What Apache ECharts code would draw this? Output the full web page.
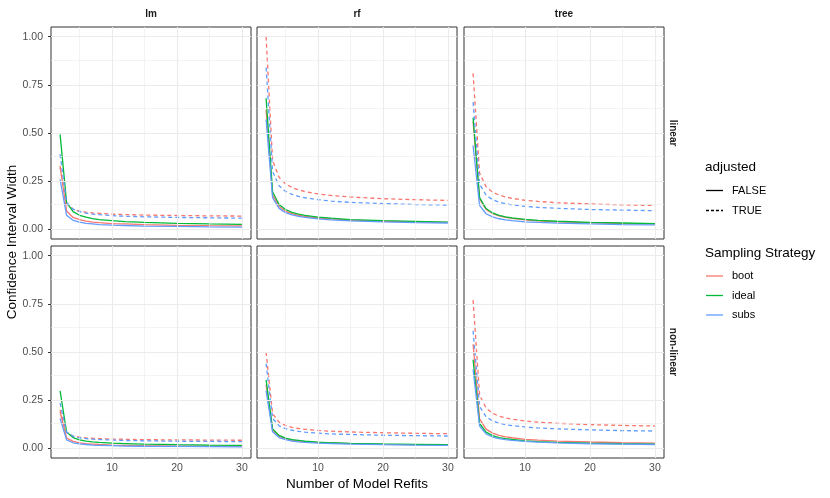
<!DOCTYPE html>
<html><head><meta charset="utf-8">
<script src="https://cdn.jsdelivr.net/npm/echarts@6/dist/echarts.min.js"></script>
<style>html,body{margin:0;padding:0;background:#fff}#c{width:830px;height:498px}</style>
</head><body><div id="c"></div>
<script>
// ---- data ----
const refits = [2, 3, 4, 5, 6, 7, 8, 10, 12, 15, 20, 25, 30];
const models = ['lm', 'rf', 'tree'];
const settings = ['linear', 'non-linear'];
const strategies = ['boot', 'ideal', 'subs'];
const adjustedLevels = ['FALSE', 'TRUE'];
const yTickValues = [0, 0.25, 0.5, 0.75, 1];
const xTickValues = [10, 20, 30];

// linear / lm
const lm_lin_boot_F  = [0.330,0.095,0.062,0.050,0.043,0.038,0.035,0.030,0.028,0.025,0.021,0.019,0.018];
const lm_lin_boot_T  = [0.320,0.131,0.104,0.094,0.089,0.085,0.083,0.079,0.077,0.074,0.072,0.070,0.069];
const lm_lin_ideal_F = [0.493,0.140,0.092,0.073,0.063,0.056,0.051,0.045,0.040,0.036,0.031,0.028,0.026];
const lm_lin_subs_F  = [0.260,0.073,0.047,0.037,0.031,0.028,0.025,0.022,0.020,0.017,0.015,0.013,0.012];
const lm_lin_subs_T  = [0.390,0.139,0.105,0.092,0.084,0.079,0.076,0.071,0.068,0.065,0.062,0.060,0.058];
// linear / rf
const rf_lin_boot_F  = [0.620,0.179,0.119,0.095,0.082,0.073,0.067,0.059,0.054,0.048,0.042,0.039,0.036];
const rf_lin_boot_T  = [1.000,0.358,0.270,0.236,0.217,0.205,0.196,0.184,0.176,0.168,0.159,0.154,0.150];
const rf_lin_ideal_F = [0.680,0.195,0.129,0.103,0.088,0.079,0.073,0.064,0.058,0.051,0.045,0.041,0.038];
const rf_lin_subs_F  = [0.570,0.165,0.109,0.087,0.075,0.067,0.062,0.054,0.049,0.044,0.039,0.035,0.033];
const rf_lin_subs_T  = [0.840,0.300,0.226,0.197,0.182,0.171,0.164,0.154,0.147,0.140,0.134,0.129,0.126];
// linear / tree
const tree_lin_boot_F  = [0.560,0.158,0.103,0.082,0.070,0.062,0.057,0.049,0.044,0.039,0.034,0.030,0.028];
const tree_lin_boot_T  = [0.810,0.292,0.221,0.193,0.178,0.168,0.161,0.151,0.145,0.138,0.132,0.127,0.124];
const tree_lin_ideal_F = [0.580,0.165,0.108,0.085,0.073,0.065,0.060,0.052,0.047,0.042,0.036,0.033,0.030];
const tree_lin_subs_F  = [0.435,0.124,0.081,0.065,0.055,0.049,0.045,0.039,0.036,0.032,0.028,0.025,0.023];
const tree_lin_subs_T  = [0.660,0.235,0.177,0.154,0.141,0.133,0.127,0.119,0.114,0.109,0.103,0.100,0.097];
// non-linear / lm
const lm_nl_boot_F  = [0.190,0.054,0.036,0.028,0.024,0.022,0.020,0.017,0.016,0.014,0.012,0.011,0.010];
const lm_nl_boot_T  = [0.200,0.081,0.064,0.058,0.054,0.052,0.051,0.048,0.047,0.045,0.044,0.043,0.042];
const lm_nl_ideal_F = [0.298,0.085,0.056,0.044,0.038,0.034,0.031,0.027,0.025,0.022,0.019,0.017,0.016];
const lm_nl_subs_F  = [0.155,0.044,0.029,0.023,0.020,0.017,0.016,0.014,0.012,0.011,0.010,0.009,0.008];
const lm_nl_subs_T  = [0.235,0.084,0.063,0.055,0.051,0.048,0.046,0.043,0.041,0.039,0.037,0.036,0.035];
// non-linear / rf
const rf_nl_boot_F  = [0.330,0.095,0.062,0.050,0.043,0.038,0.035,0.030,0.028,0.025,0.021,0.019,0.018];
const rf_nl_boot_T  = [0.500,0.180,0.136,0.119,0.109,0.103,0.099,0.093,0.089,0.085,0.081,0.078,0.076];
const rf_nl_ideal_F = [0.355,0.101,0.067,0.053,0.045,0.041,0.037,0.032,0.029,0.026,0.023,0.021,0.019];
const rf_nl_subs_F  = [0.300,0.086,0.056,0.045,0.038,0.034,0.031,0.027,0.025,0.022,0.019,0.017,0.016];
const rf_nl_subs_T  = [0.440,0.156,0.117,0.102,0.094,0.088,0.084,0.079,0.075,0.072,0.068,0.066,0.064];
// non-linear / tree
const tree_nl_boot_F  = [0.540,0.153,0.100,0.079,0.067,0.060,0.055,0.047,0.043,0.038,0.033,0.029,0.027];
const tree_nl_boot_T  = [0.770,0.276,0.209,0.182,0.167,0.158,0.151,0.142,0.136,0.130,0.123,0.119,0.116];
const tree_nl_ideal_F = [0.460,0.129,0.084,0.066,0.056,0.050,0.046,0.039,0.035,0.031,0.027,0.024,0.022];
const tree_nl_subs_F  = [0.410,0.116,0.075,0.059,0.051,0.045,0.041,0.036,0.032,0.028,0.024,0.022,0.020];
const tree_nl_subs_T  = [0.610,0.218,0.164,0.142,0.131,0.123,0.118,0.111,0.106,0.101,0.096,0.092,0.090];

// ---- assembly ----
const panelLines = {
  'linear|lm':   [['boot','FALSE',lm_lin_boot_F],['boot','TRUE',lm_lin_boot_T],['ideal','FALSE',lm_lin_ideal_F],['subs','FALSE',lm_lin_subs_F],['subs','TRUE',lm_lin_subs_T]],
  'linear|rf':   [['boot','FALSE',rf_lin_boot_F],['boot','TRUE',rf_lin_boot_T],['ideal','FALSE',rf_lin_ideal_F],['subs','FALSE',rf_lin_subs_F],['subs','TRUE',rf_lin_subs_T]],
  'linear|tree': [['boot','FALSE',tree_lin_boot_F],['boot','TRUE',tree_lin_boot_T],['ideal','FALSE',tree_lin_ideal_F],['subs','FALSE',tree_lin_subs_F],['subs','TRUE',tree_lin_subs_T]],
  'non-linear|lm':   [['boot','FALSE',lm_nl_boot_F],['boot','TRUE',lm_nl_boot_T],['ideal','FALSE',lm_nl_ideal_F],['subs','FALSE',lm_nl_subs_F],['subs','TRUE',lm_nl_subs_T]],
  'non-linear|rf':   [['boot','FALSE',rf_nl_boot_F],['boot','TRUE',rf_nl_boot_T],['ideal','FALSE',rf_nl_ideal_F],['subs','FALSE',rf_nl_subs_F],['subs','TRUE',rf_nl_subs_T]],
  'non-linear|tree': [['boot','FALSE',tree_nl_boot_F],['boot','TRUE',tree_nl_boot_T],['ideal','FALSE',tree_nl_ideal_F],['subs','FALSE',tree_nl_subs_F],['subs','TRUE',tree_nl_subs_T]]
};

const colors = { boot: '#F8766D', ideal: '#00BA38', subs: '#619CFF' };
const FONT = '"Liberation Sans", Arial, Helvetica, sans-serif';
const colLeft = [51, 257, 464];
const rowTop = [27, 246];
const PW = 200, PH = 212;

const grids = [], xAxes = [], yAxes = [], series = [];
let gi = 0;
settings.forEach((setting, r) => {
  models.forEach((model, c) => {
    grids.push({ left: colLeft[c], top: rowTop[r], width: PW, height: PH, show: true,
      borderColor: '#333333', borderWidth: 1, backgroundColor: '#ffffff', containLabel: false });
    xAxes.push({ gridIndex: gi, type: 'value', min: 0.6, max: 31.4,
      axisLine: { show: false }, splitLine: { show: false },
      axisTick: { show: r === 1, customValues: xTickValues, length: 3, lineStyle: { color: '#333', width: 1 } },
      axisLabel: { show: r === 1, customValues: xTickValues, color: '#4d4d4d', fontSize: 10.5, fontFamily: FONT, margin: 5 } });
    yAxes.push({ gridIndex: gi, type: 'value', min: -0.05, max: 1.05,
      axisLine: { show: false }, splitLine: { show: false },
      axisTick: { show: c === 0, customValues: yTickValues, length: 3, lineStyle: { color: '#333', width: 1 } },
      axisLabel: { show: c === 0, customValues: yTickValues, color: '#4d4d4d', fontSize: 10.5, fontFamily: FONT, margin: 8,
        formatter: v => v.toFixed(2) } });
    // panel grid lines
    const ml = [];
    [5, 15, 25].forEach(v => ml.push({ xAxis: v, lineStyle: { color: '#ebebeb', width: 0.6, type: 'solid' } }));
    [0.125, 0.375, 0.625, 0.875].forEach(v => ml.push({ yAxis: v, lineStyle: { color: '#ebebeb', width: 0.6, type: 'solid' } }));
    xTickValues.forEach(v => ml.push({ xAxis: v, lineStyle: { color: '#ebebeb', width: 1.1, type: 'solid' } }));
    yTickValues.forEach(v => ml.push({ yAxis: v, lineStyle: { color: '#ebebeb', width: 1.1, type: 'solid' } }));
    series.push({ type: 'line', xAxisIndex: gi, yAxisIndex: gi, data: [], silent: true, z: 1,
      markLine: { silent: true, symbol: ['none', 'none'], animation: false, label: { show: false },
        emphasis: { disabled: true }, data: ml } });
    panelLines[setting + '|' + model].forEach(([strat, adj, vals]) => {
      series.push({ type: 'line', xAxisIndex: gi, yAxisIndex: gi, z: 3,
        name: strat + ' ' + adj, showSymbol: false, symbol: 'none', animation: false, silent: true,
        lineStyle: { color: colors[strat], width: 1.3, type: adj === 'TRUE' ? [4, 3] : 'solid' },
        data: refits.map((x, i) => [x, vals[i]]) });
    });
    gi++;
  });
});

const graphic = [];
models.forEach((m, c) => graphic.push({ type: 'text', x: colLeft[c] + PW / 2, y: 14,
  style: { text: m, font: 'bold 10px ' + FONT, fill: '#1a1a1a', textAlign: 'center', textVerticalAlign: 'middle' } }));
settings.forEach((s, r) => graphic.push({ type: 'text', x: 673, y: rowTop[r] + PH / 2, rotation: -Math.PI / 2,
  style: { text: s, font: 'bold 10px ' + FONT, fill: '#1a1a1a', textAlign: 'center', textVerticalAlign: 'middle' } }));
graphic.push({ type: 'text', x: 12, y: 242, rotation: Math.PI / 2,
  style: { text: 'Confidence Interval Width', font: '13.5px ' + FONT, fill: '#000', textAlign: 'center', textVerticalAlign: 'middle' } });
graphic.push({ type: 'text', x: 357, y: 484,
  style: { text: 'Number of Model Refits', font: '13.5px ' + FONT, fill: '#000', textAlign: 'center', textVerticalAlign: 'middle' } });
// legends
graphic.push({ type: 'text', x: 705, y: 167, style: { text: 'adjusted', font: '13.5px ' + FONT, fill: '#000', textVerticalAlign: 'middle' } });
adjustedLevels.forEach((a, i) => {
  const yy = 190.5 + i * 20;
  graphic.push({ type: 'line', shape: { x1: 706, y1: yy, x2: 723, y2: yy },
    style: { stroke: '#000', lineWidth: 1.3, lineDash: a === 'TRUE' ? [3, 2] : null } });
  graphic.push({ type: 'text', x: 732, y: yy, style: { text: a, font: '11px ' + FONT, fill: '#000', textVerticalAlign: 'middle' } });
});
graphic.push({ type: 'text', x: 705, y: 253, style: { text: 'Sampling Strategy', font: '13.5px ' + FONT, fill: '#000', textVerticalAlign: 'middle' } });
strategies.forEach((s, i) => {
  const yy = 276 + i * 19.5;
  graphic.push({ type: 'line', shape: { x1: 706, y1: yy, x2: 723, y2: yy },
    style: { stroke: colors[s], lineWidth: 1.3 } });
  graphic.push({ type: 'text', x: 732, y: yy, style: { text: s, font: '11px ' + FONT, fill: '#000', textVerticalAlign: 'middle' } });
});

const chart = echarts.init(document.getElementById('c'), null, { renderer: 'canvas' });
chart.setOption({ backgroundColor: '#ffffff', animation: false, grid: grids, xAxis: xAxes, yAxis: yAxes, series: series, graphic: graphic });
</script></body></html>
